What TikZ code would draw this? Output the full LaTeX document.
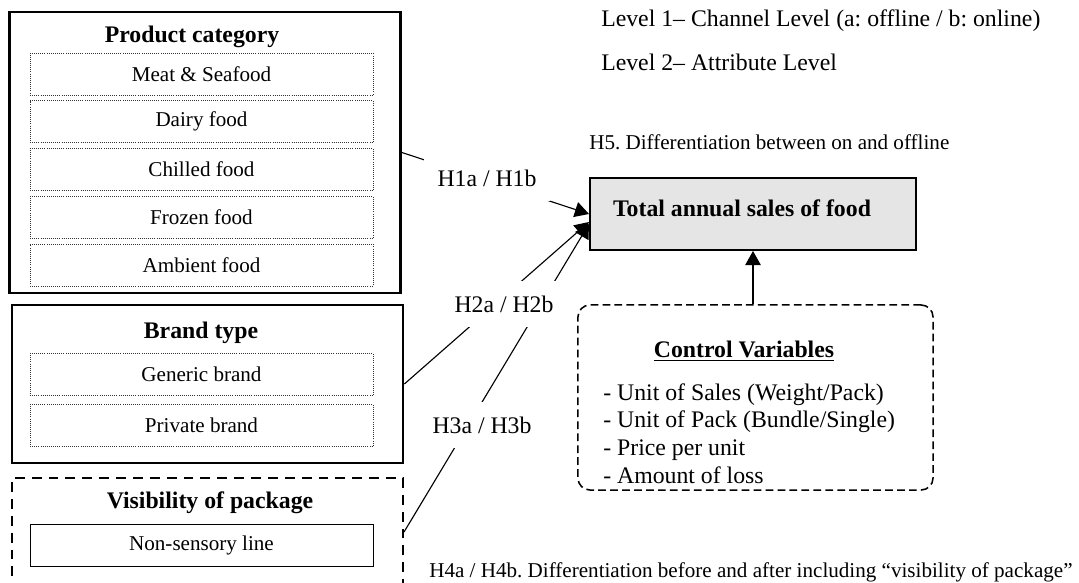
\documentclass[tikz,border=0pt]{standalone}
\usepackage{fontspec}
\setmainfont{Liberation Serif}
\usetikzlibrary{arrows.meta, positioning}
\frenchspacing

\newcommand{\titlesize}{\fontsize{16.9}{19.7}\selectfont}
\newcommand{\itemsize}{\fontsize{15}{18}\selectfont}

\begin{document}
\begin{tikzpicture}[
    x=0.025cm, y=-0.025cm,
    group/.style={draw, line width=1.9pt, minimum width=9.775cm, inner sep=0pt},
    optgroup/.style={group, line width=1.4pt, dash pattern=on 7pt off 5pt},
    member/.style={draw=black!80, densely dotted, line width=0.5pt, minimum width=8.575cm,
      minimum height=1.05cm, inner sep=0pt, font=\itemsize},
    heading/.style={font=\titlesize\bfseries, inner sep=0pt},
    plain/.style={font=\titlesize, anchor=west, inner sep=0pt},
    note/.style={font=\itemsize, anchor=west, inner sep=0pt},
    hyp/.style={font=\titlesize, fill=white, inner xsep=0.325cm, minimum height=1.15cm},
    link/.style={line width=0.8pt, -{Triangle[length=10pt,width=11pt]}}
]
\clip (0,0) rectangle (1079,583);

\node[group, minimum height=7.025cm] (prod) at (205,152.5) {};
\node[heading] (prodtitle) at (192,37) {Product category};
\node[member] (meat) at (201.5,74) {Meat \& Seafood};
\node[member, below=0.125cm of meat] (dairy) {Dairy food};
\node[member, below=0.125cm of dairy] (chilled) {Chilled food};
\node[member, below=0.125cm of chilled] (frozen) {Frozen food};
\node[member, below=0.125cm of frozen] (ambient) {Ambient food};

\node[group, minimum height=3.95cm] (brand) at (207.5,384) {};
\node[heading] (brandtitle) at (201,333) {Brand type};
\node[member] (generic) at (201.5,374.5) {Generic brand};
\node[member, below=0.2cm of generic] (private) {Private brand};

\node[optgroup, minimum height=2.7cm] (vis) at (207.5,532) {};
\node[heading] (vistitle) at (210,503) {Visibility of package};
\node[member, solid, draw=black, line width=0.6pt] (nonsensory) at (201.5,545.5) {Non-sensory line};

\node[draw, line width=1.4pt, fill=black!10, minimum width=8.15cm, minimum height=1.8cm] (total) at (753,214) {};
\node[heading] (totaltxt) at (742,208) {Total annual sales of food};

\node[draw, line width=1.1pt, dash pattern=on 5.5pt off 3pt, rounded corners=0.3cm,
  minimum width=8.875cm, minimum height=4.625cm] (ctrl) at (755.5,397.5) {};
\node[heading] (ctrltitle) at (744,351) {\underline{Control Variables}};
\node[plain, align=left] (ctrlitems) at (603,433.5) {- Unit of Sales (Weight/Pack)\\- Unit of Pack (Bundle/Single)\\- Price per unit\\- Amount of loss};

\node[plain] (level1) at (601,21) {Level 1– Channel Level (a: offline / b: online)};
\node[plain] (level2) at (601,62) {Level 2– Attribute Level};
\node[note] (h5) at (589,142) {H5. Differentiation between on and offline};
\node[note] (h4) at (429,572) {H4a / H4b. Differentiation before and after including “visibility of package”};

\draw[link] (prod.east) -- (total.west);
\draw[link] (brand.east) -- ([yshift=-0.2cm]total.west);
\draw[link] (vis.east) -- ([yshift=-0.25cm]total.west);
\draw[link] (ctrl.north -| total.south) -- (total.south);

\node[hyp] (h1) at (487,178) {H1a / H1b};
\node[hyp] (h2) at (504,304) {H2a / H2b};
\node[hyp] (h3) at (482,425) {H3a / H3b};
\end{tikzpicture}
\end{document}
